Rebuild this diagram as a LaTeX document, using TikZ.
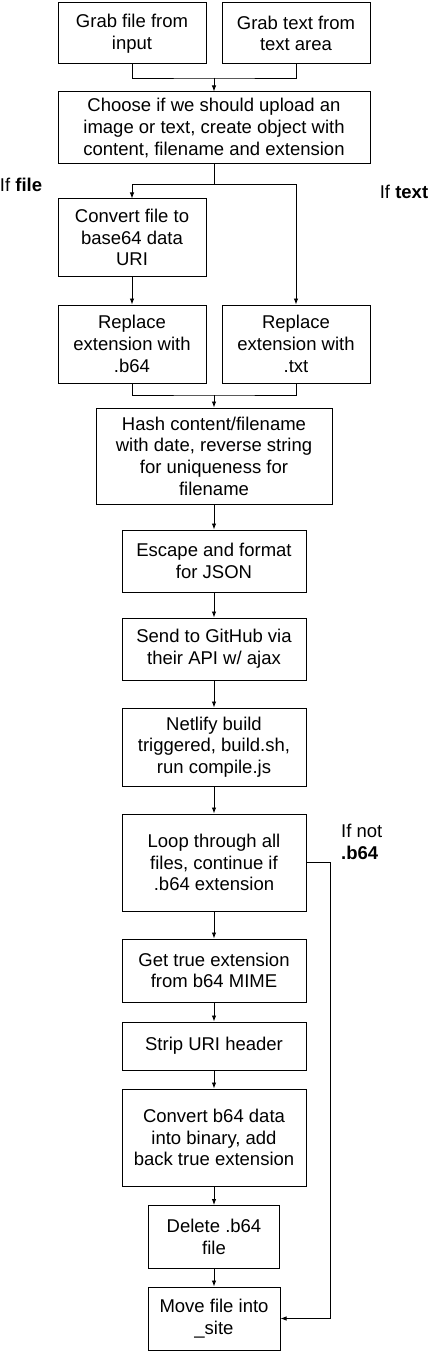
\documentclass[tikz,border=0pt]{standalone}
\usepackage{fontspec}
\setmainfont{Liberation Sans}
\usetikzlibrary{arrows.meta}
\begin{document}
\begin{tikzpicture}[x=1pt,y=-1pt,
  box/.style={draw, line width=1pt, align=center, inner sep=0pt,
    font=\fontsize{18.5}{21.7}\selectfont},
  lbl/.style={inner sep=0pt, font=\fontsize{18.5}{21.7}\selectfont},
  conn/.style={line width=0.9pt},
  arr/.style={line width=0.9pt, -{Latex[length=6pt,width=4.5pt]}}]
\useasboundingbox (0,0) rectangle (428,1351);
\node[box, minimum width=148pt, minimum height=61pt] (b1) at (132,33.5) {Grab file from\\input};
\node[box, minimum width=148pt, minimum height=61pt] (b2) at (296,33.5) {Grab text from\\text area};
\node[box, minimum width=312pt, minimum height=72pt] (b3) at (214,128) {Choose if we should upload an\\image or text, create object with\\content, filename and extension};
\node[box, minimum width=148pt, minimum height=77pt] (b4) at (132,237.5) {Convert file to\\base64 data\\URI};
\node[box, minimum width=148pt, minimum height=78pt] (b5) at (132,344) {Replace\\extension with\\.b64};
\node[box, minimum width=148pt, minimum height=78pt] (b6) at (296,344) {Replace\\extension with\\.txt};
\node[box, minimum width=236pt, minimum height=96pt] (b7) at (214,456) {Hash content/filename\\with date, reverse string\\for uniqueness for\\filename};
\node[box, minimum width=184pt, minimum height=62pt] (b8) at (214,561) {Escape and format\\for JSON};
\node[box, minimum width=184pt, minimum height=62pt] (b9) at (214,649) {Send to GitHub via\\their API w/ ajax};
\node[box, minimum width=184pt, minimum height=78pt] (b10) at (214,747) {Netlify build\\triggered, build.sh,\\run compile.js};
\node[box, minimum width=184pt, minimum height=97pt] (b11) at (214,862.5) {Loop through all\\files, continue if\\.b64 extension};
\node[box, minimum width=184pt, minimum height=63pt] (b12) at (214,970.5) {Get true extension\\from b64 MIME};
\node[box, minimum width=184pt, minimum height=48pt] (b13) at (214,1046) {Strip URI header};
\node[box, minimum width=184pt, minimum height=97pt] (b14) at (214,1137.5) {Convert b64 data\\into binary, add\\back true extension};
\node[box, minimum width=131pt, minimum height=63pt] (b15) at (214,1237) {Delete .b64\\file};
\node[box, minimum width=132pt, minimum height=63pt] (b16) at (214,1318.5) {Move file into\\\_site};
\node[lbl] (l1) at (21,185) {If \textbf{file}};
\node[lbl] (l2) at (404,192) {If \textbf{text}};
\node[lbl, align=left, anchor=west] (l3) at (341,842) {If not\\\textbf{.b64}};
\coordinate (m1) at (214,78);
\coordinate (s1) at (214,184);
\coordinate (m2) at (214,395);
\draw[conn] (b1.south) |- (m1) -| (b2.south);
\draw[arr] (m1) -- (b3.north);
\draw[conn] (b3.south) -- (s1);
\draw[arr] (s1) -| (b4.north);
\draw[arr] (s1) -| (b6.north);
\draw[arr] (b4) -- (b5);
\draw[conn] (b5.south) |- (m2) -| (b6.south);
\draw[arr] (m2) -- (b7.north);
\draw[arr] (b7) -- (b8);
\draw[arr] (b8) -- (b9);
\draw[arr] (b9) -- (b10);
\draw[arr] (b10) -- (b11);
\draw[arr] (b11) -- (b12);
\draw[arr] (b12) -- (b13);
\draw[arr] (b13) -- (b14);
\draw[arr] (b14) -- (b15);
\draw[arr] (b15) -- (b16);
\draw[arr] (b11.east) -- ++(24,0) |- (b16.east);
\end{tikzpicture}
\end{document}
